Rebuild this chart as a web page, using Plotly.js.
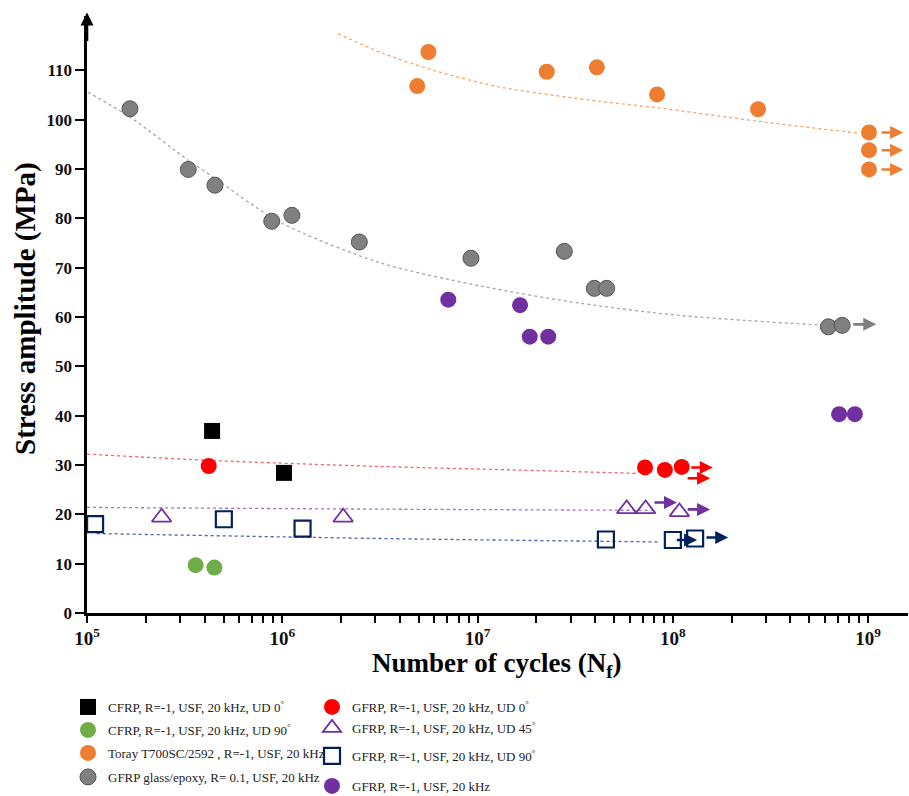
<!DOCTYPE html>
<html>
<head>
<meta charset="utf-8">
<script src="https://cdn.plot.ly/plotly-3.0.1.min.js"></script>
<style>html,body{margin:0;padding:0;background:#fff;}#chart{width:909px;height:796px;}</style>
</head>
<body>
<div id="chart"></div>
<script>
// ---------------- data ----------------
const cfrp0N = [4.37e5, 1.02e6];
const cfrp0S = [36.9, 28.4];

const cfrp90N = [3.6e5, 4.49e5];
const cfrp90S = [9.7, 9.2];

const torayN = [4.91e6, 5.6e6, 2.26e7, 4.08e7, 8.3e7, 2.73e8, 1.01e9, 1.01e9, 1.01e9];
const torayS = [106.8, 113.7, 109.7, 110.6, 105.1, 102.1, 97.4, 93.8, 89.9];

const glassN = [1.66e5, 3.30e5, 4.52e5, 8.83e5, 1.12e6, 2.48e6, 9.25e6, 2.78e7, 3.96e7, 4.58e7, 6.25e8, 7.36e8];
const glassS = [102.2, 89.9, 86.7, 79.4, 80.6, 75.2, 71.9, 73.3, 65.8, 65.8, 58.0, 58.3];

const gfrp0N = [4.2e5, 7.2e7, 9.1e7, 1.11e8];
const gfrp0S = [29.8, 29.5, 29.0, 29.6];

const gfrp45N = [2.41e5, 2.05e6, 5.8e7, 7.25e7, 1.08e8];
const gfrp45S = [19.4, 19.4, 21.1, 21.1, 20.5];

const gfrp90N = [1.1e5, 5.02e5, 1.27e6, 4.54e7, 1.0e8, 1.30e8];
const gfrp90S = [18.0, 19.0, 17.1, 14.9, 14.8, 15.1];

const gfrpN = [7.08e6, 1.65e7, 1.85e7, 2.30e7, 7.1e8, 8.55e8];
const gfrpS = [63.5, 62.4, 56.0, 56.0, 40.3, 40.3];

// dotted trend curves
const glassTrendN = [1.01e5, 1.66e5, 3.29e5, 4.52e5, 9.73e5, 3.16e6, 1.03e7, 3.34e7, 1.09e8, 5.47e8, 7.0e8];
const glassTrendS = [105.6, 100.5, 91.8, 88.1, 79.2, 71.0, 66.3, 62.8, 60.3, 58.4, 58.2];
const torayTrendN = [1.93e6, 3.29e6, 5.93e6, 1.30e7, 4.24e7, 8.30e7, 2.70e8, 9.08e8];
const torayTrendS = [117.4, 113.4, 110.0, 106.6, 103.7, 102.4, 99.7, 97.2];
const gfrp0TrendN = [1.0e5, 4.42e5, 3.16e6, 1.52e7, 6.52e7];
const gfrp0TrendS = [32.2, 30.9, 29.7, 29.0, 28.3];
const gfrp45TrendN = [1.0e5, 3.16e6, 8.28e7];
const gfrp45TrendS = [21.4, 21.05, 20.8];
const gfrp90TrendN = [1.12e5, 3.16e6, 8.59e7];
const gfrp90TrendS = [16.1, 15.1, 14.4];

// run-out arrows
const arrowFromN = [8.24e8, 1.15e9, 1.15e9, 1.15e9, 1.22e8, 1.17e8, 7.91e7, 1.17e8, 1.03e8, 1.46e8];
const arrowToN   = [1.10e9, 1.51e9, 1.51e9, 1.51e9, 1.60e8, 1.55e8, 1.05e8, 1.55e8, 1.33e8, 1.92e8];
const arrowS     = [58.5, 97.4, 93.8, 89.9, 29.5, 27.3, 22.4, 21.0, 14.8, 15.3];
const arrowColor = ['#808080', '#ED7D31', '#ED7D31', '#ED7D31', '#FF0000', '#FF0000', '#7030A0', '#7030A0', '#002060', '#002060'];

// axis ticks and titles
const yTickVals = [0, 10, 20, 30, 40, 50, 60, 70, 80, 90, 100, 110];
const decades = [5, 6, 7, 8, 9];
const xTitle = 'Number of cycles (N<sub>f</sub>)';
const yTitle = 'Stress amplitude (MPa)';

// ---------------- build ----------------
const SERIF = '"Liberation Serif", "Times New Roman", serif';
const W = 909, H = 796, ML = 87, MR = 1, MT = 16, MB = 183;
const PW = W - ML - MR, PH = H - MT - MB;
const px2paperX = p => (p - ML) / PW;
const px2paperY = p => (H - MB - p) / PH;

const xTickVals = [], xTickText = [];
decades.forEach(d => {
  for (let m = 1; m <= 9; m++) {
    const v = m * Math.pow(10, d);
    if (v > 1.6e9) break;
    xTickVals.push(v);
    xTickText.push(m === 1 ? '10<sup>' + d + '</sup>' : '');
  }
});

function trend(xs, ys, color) {
  return {x: xs, y: ys, mode: 'lines', type: 'scatter', showlegend: false, hoverinfo: 'skip',
          line: {color: color, width: 1.3, dash: 'dot', shape: 'spline', smoothing: 0.8}};
}
const traces = [
  trend(glassTrendN, glassTrendS, '#A6A6A6'),
  trend(torayTrendN, torayTrendS, '#F4A46E'),
  trend(gfrp0TrendN, gfrp0TrendS, '#FF6060'),
  trend(gfrp45TrendN, gfrp45TrendS, '#A070D0'),
  trend(gfrp90TrendN, gfrp90TrendS, '#4A62A8'),
  {x: cfrp0N, y: cfrp0S, mode: 'markers', type: 'scatter', legend: 'legend',
   name: 'CFRP, R=-1, USF, 20 kHz, UD 0<sup>°</sup>',
   marker: {symbol: 'square', size: 16, color: '#000000'}},
  {x: cfrp90N, y: cfrp90S, mode: 'markers', type: 'scatter', legend: 'legend2',
   name: 'CFRP, R=-1, USF, 20 kHz, UD 90<sup>°</sup>',
   marker: {symbol: 'circle', size: 16, color: '#70AD47'}},
  {x: torayN, y: torayS, mode: 'markers', type: 'scatter', legend: 'legend3',
   name: 'Toray T700SC/2592 , R=-1, USF, 20 kHz',
   marker: {symbol: 'circle', size: 16, color: '#ED7D31'}},
  {x: glassN, y: glassS, mode: 'markers', type: 'scatter', legend: 'legend4',
   name: 'GFRP glass/epoxy, R= 0.1, USF, 20 kHz',
   marker: {symbol: 'circle', size: 16, color: '#808080', line: {color: '#555555', width: 1}}},
  {x: gfrp0N, y: gfrp0S, mode: 'markers', type: 'scatter', legend: 'legend5',
   name: 'GFRP, R=-1, USF, 20 kHz, UD 0<sup>°</sup>',
   marker: {symbol: 'circle', size: 16, color: '#FF0000'}},
  {x: gfrp45N, y: gfrp45S, mode: 'markers', type: 'scatter', legend: 'legend6',
   name: 'GFRP, R=-1, USF, 20 kHz, UD 45<sup>°</sup>',
   marker: {symbol: 'triangle-up-open', size: 17, color: '#7030A0', line: {width: 1.8}}},
  {x: gfrp90N, y: gfrp90S, mode: 'markers', type: 'scatter', legend: 'legend7',
   name: 'GFRP, R=-1, USF, 20 kHz, UD 90<sup>°</sup>',
   marker: {symbol: 'square-open', size: 16, color: '#002060', line: {width: 2.2}}},
  {x: gfrpN, y: gfrpS, mode: 'markers', type: 'scatter', legend: 'legend8',
   name: 'GFRP, R=-1, USF, 20 kHz',
   marker: {symbol: 'circle', size: 16, color: '#7030A0'}}
];

const annotations = arrowFromN.map((n0, i) => ({
  xref: 'x', yref: 'y', axref: 'x', ayref: 'y',
  x: Math.log10(arrowToN[i]), y: arrowS[i],
  ax: Math.log10(n0), ay: arrowS[i],
  text: '', showarrow: true, arrowhead: 2, arrowsize: 1, arrowwidth: 2.6,
  arrowcolor: arrowColor[i], standoff: 0, startstandoff: 0
}));
// arrow tip of the y axis
annotations.push({xref: 'paper', yref: 'paper', x: 0, y: 1.006, ax: 0, ay: 30,
  axref: 'pixel', ayref: 'pixel', text: '', showarrow: true, arrowhead: 2,
  arrowsize: 1, arrowwidth: 2.6, arrowcolor: '#000'});
// y axis title
annotations.push({xref: 'paper', yref: 'paper', x: px2paperX(25), y: px2paperY(309),
  xanchor: 'center', yanchor: 'middle', textangle: -90, showarrow: false, text: yTitle,
  font: {family: SERIF, size: 29, weight: 'bold', color: '#000'}});
// x axis title
annotations.push({xref: 'paper', yref: 'paper', x: px2paperX(497), y: px2paperY(665),
  xanchor: 'center', yanchor: 'middle', showarrow: false, text: xTitle,
  font: {family: SERIF, size: 27, weight: 'bold', color: '#000'}});

// legend rows: [text-start x px, row-centre y px]
const legendPos = [[108, 707], [108, 730], [108, 753], [108, 777],
                   [352, 707], [352, 728], [352, 756], [352, 786]];

const layout = {
  width: W, height: H,
  margin: {l: ML, r: MR, t: MT, b: MB, autoexpand: false},
  paper_bgcolor: '#fff', plot_bgcolor: '#fff',
  font: {family: SERIF, color: '#000'},
  xaxis: {
    type: 'log', range: [5, 9.204], showline: true, linecolor: '#000', linewidth: 2.6,
    showgrid: false, zeroline: false, ticks: 'outside', ticklen: 7, tickwidth: 2, tickcolor: '#000',
    tickmode: 'array', tickvals: xTickVals, ticktext: xTickText, automargin: false,
    tickfont: {family: SERIF, size: 19, weight: 'bold', color: '#111'}
  },
  yaxis: {
    range: [0, 121], showline: true, linecolor: '#000', linewidth: 2.6,
    showgrid: false, zeroline: false, ticks: 'outside', ticklen: 9, tickwidth: 2, tickcolor: '#000',
    tickmode: 'array', tickvals: yTickVals, automargin: false,
    tickfont: {family: SERIF, size: 17, weight: 'bold', color: '#111'}
  },
  annotations: annotations,
  showlegend: true
};
legendPos.forEach((p, i) => {
  const key = i === 0 ? 'legend' : 'legend' + (i + 1);
  layout[key] = {x: px2paperX(p[0] - 40), y: px2paperY(p[1]), xanchor: 'left', yanchor: 'middle',
    orientation: 'v', font: {family: SERIF, size: 13, color: '#222'},
    bgcolor: 'rgba(0,0,0,0)', itemwidth: 30, borderwidth: 0};
});

Plotly.newPlot('chart', traces, layout, {displayModeBar: false, staticPlot: true});
</script>
</body>
</html>
